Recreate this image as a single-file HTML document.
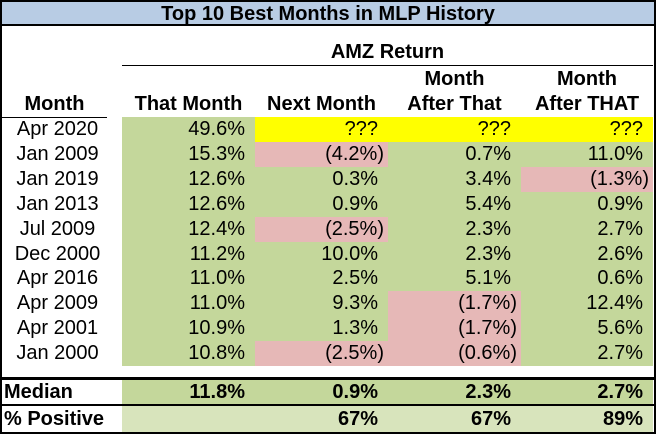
<!DOCTYPE html>
<html><head><meta charset="utf-8"><style>
body{margin:0;width:656px;height:434px;overflow:hidden;background:#fff;font-family:"Liberation Sans",Arial,sans-serif;}
#t{position:absolute;left:0;top:0;width:652px;height:430px;border:2px solid #000;}
.a{position:absolute;box-sizing:border-box;font-size:20px;line-height:25px;white-space:nowrap;color:#000;}
.b{font-weight:bold}
.g{background:#c4d79b}.p{background:#e6b8b7}.y{background:#ffff00}.l{background:#d8e4bc}
.r{text-align:right;padding-right:10px}.c{text-align:center}
</style></head><body>
<div id="t"></div>
<div class="a b c" style="left:2px;top:2px;width:652px;height:24px;line-height:24px;background:#b8cce4;font-size:20px;border-bottom:2px solid #000">Top 10 Best Months in MLP History</div>
<div class="a b c" style="left:122px;top:40px;width:531px;line-height:25px">AMZ Return</div>
<div class="a" style="left:122px;top:65px;width:531px;height:1px;background:#000"></div>
<div class="a b c" style="left:2px;top:92px;width:105px">Month</div>
<div class="a" style="left:2px;top:117px;width:105px;height:1px;background:#000"></div>
<div class="a b c" style="left:122px;top:92px;width:133px">That Month</div>
<div class="a b c" style="left:255px;top:92px;width:133px">Next Month</div>
<div class="a b c" style="left:388px;top:67px;width:133px;line-height:25px">Month<br>After That</div>
<div class="a b c" style="left:521px;top:67px;width:132px;line-height:25px">Month<br>After THAT</div>
<div id="rows"></div>
<div class="a" style="left:2px;top:377px;width:652px;height:3px;background:#000"></div>
<div class="a b" style="left:4px;top:380px;line-height:24px">Median</div>
<div class="a" style="left:2px;top:404px;width:652px;height:2px;background:#000"></div>
<div class="a b" style="left:4px;top:406px;line-height:26px">% Positive</div>
<script>
const months=["Apr 2020","Jan 2009","Jan 2019","Jan 2013","Jul 2009","Dec 2000","Apr 2016","Apr 2009","Apr 2001","Jan 2000"];
const thatMonth=[49.6,15.3,12.6,12.6,12.4,11.2,11.0,11.0,10.9,10.8];
const nextMonth=[null,-4.2,0.3,0.9,-2.5,10.0,2.5,9.3,1.3,-2.5];
const afterThat=[null,0.7,3.4,5.4,2.3,2.3,5.1,-1.7,-1.7,-0.6];
const afterThat2=[null,11.0,-1.3,0.9,2.7,2.6,0.6,12.4,5.6,2.7];
const medians=["11.8%","0.9%","2.3%","2.7%"];
const positives=["","67%","67%","89%"];
const colX=[122,255,388,521],colW=[133,133,133,133];
const top0=117,rowH=24.9;
const root=document.getElementById('rows');
function fmt(v){return v<0?"("+Math.abs(v).toFixed(1)+"%)":v.toFixed(1)+"%";}
function cell(x,y,w,h,txt,cls){const d=document.createElement('div');d.className='a '+cls;d.style.left=x+'px';d.style.top=y+'px';d.style.width=w+'px';d.style.height=h+'px';d.style.lineHeight=h+'px';d.textContent=txt;root.appendChild(d);return d;}
const series=[thatMonth,nextMonth,afterThat,afterThat2];
months.forEach((m,i)=>{
 const y=top0+i*rowH;
 const lab=cell(0,y,115,rowH,m,'c');
 
 
 series.forEach((s,j)=>{
  const v=s[i];
  const txt=v===null?'???':fmt(v);
  const cls=(v===null?'y':(v<0?'p':'g'))+' r';
  const d=cell(colX[j],y,colW[j]-(j==3?1:0),rowH+0.5,txt,cls);
  if(v!==null&&v<0){d.style.paddingRight='4px';}
  
  
 });
});
medians.forEach((t,j)=>{
 const d=cell(colX[j],380,colW[j]-(j==3?1:0),24,t,'g r b');
 
 
});
positives.forEach((t,j)=>{
 const d=cell(colX[j],406,colW[j]-(j==3?1:0),26,t,'l r b');
 
 
});
</script>
</body></html>
